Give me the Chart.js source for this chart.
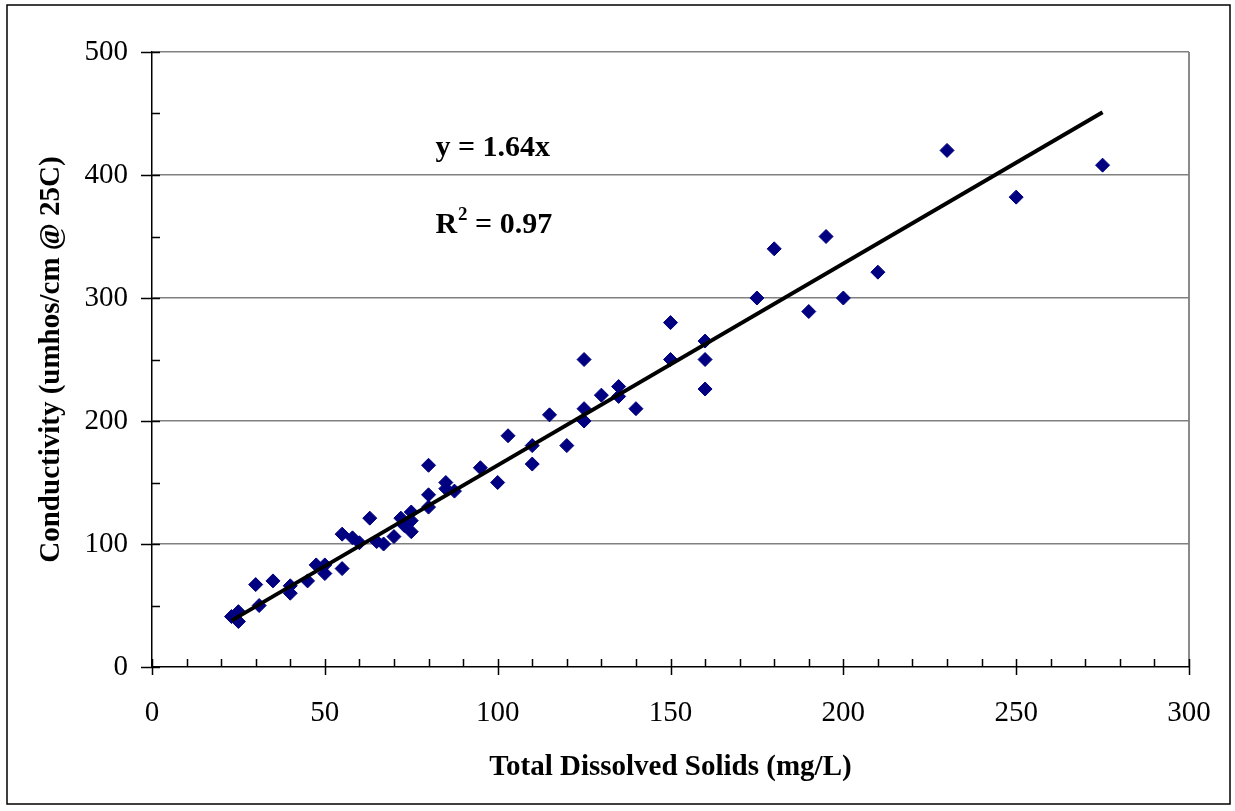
<!DOCTYPE html>
<html>
<head>
<meta charset="utf-8">
<script src="https://cdn.jsdelivr.net/npm/chart.js@4.4.0/dist/chart.umd.min.js"></script>
<style>
  html, body { margin: 0; padding: 0; background: #fff; }
  #wrap { width: 1235px; height: 811px; position: relative; }
</style>
</head>
<body>
<div id="wrap"><canvas id="chart"></canvas></div>
<script>
// TDS (mg/L) vs conductivity readings
const tds = [23, 25, 25, 31, 30, 35, 40, 40, 45, 47.5, 50, 50, 55, 55, 58, 60, 63, 65, 67, 70,
  72, 73, 75, 75, 75, 80, 80, 80, 85, 85, 87.5, 95, 100, 103, 110, 110, 115, 120, 125, 125,
  125, 130, 135, 135, 140, 150, 150, 160, 160, 160, 175, 180, 190, 195, 200, 210, 230, 250, 275];
const conductivity = [41, 45, 37, 50, 67, 70, 66, 60, 70, 83, 83, 76, 80, 108, 105, 101, 121, 102, 100, 106,
  121, 115, 126, 119, 110, 164, 140, 130, 150, 145, 143, 162, 150, 188, 180, 165, 205, 180, 250, 210,
  200, 221, 228, 220, 210, 280, 250, 265, 250, 226, 300, 340, 289, 350, 300, 321, 420, 382, 408];

// fitted line y = 1.64x, drawn over the data range
const slope = 1.64;
const fitRange = [23, 275];

const serif = "'Liberation Serif', 'Times New Roman', serif";

const points = tds.map((v, i) => ({ x: v, y: conductivity[i] }));
const fitLine = fitRange.map(v => ({ x: v, y: slope * v }));

const extras = {
  id: 'extras',
  beforeDraw(chart) {
    const ctx = chart.ctx;
    ctx.save();
    ctx.fillStyle = '#fff';
    ctx.fillRect(0, 0, chart.width, chart.height);
    ctx.strokeStyle = '#000';
    ctx.lineWidth = 1.5;
    ctx.strokeRect(7, 5, 1223, 799);
    ctx.restore();
  },
  afterDraw(chart) {
    const { ctx, scales: { x, y } } = chart;
    ctx.save();
    ctx.strokeStyle = '#000';
    ctx.lineWidth = 1.5;
    ctx.beginPath();
    for (let v = 0; v <= 500; v += 50) {
      const py = Math.round(y.getPixelForValue(v)) + 0.5;
      ctx.moveTo(v % 100 === 0 ? x.left - 11 : x.left, py);
      ctx.lineTo(x.left + 8, py);
    }
    for (let v = 0; v <= 300; v += 10) {
      const px = Math.round(x.getPixelForValue(v)) + 0.5;
      ctx.moveTo(px, y.bottom - 8);
      ctx.lineTo(px, v % 50 === 0 ? y.bottom + 8 : y.bottom);
    }
    ctx.stroke();

    // equation text
    ctx.fillStyle = '#000';
    ctx.textBaseline = 'middle';
    ctx.textAlign = 'left';
    ctx.font = 'bold 30px ' + serif;
    const tx = x.getPixelForValue(82);
    ctx.fillText('y = 1.64x', tx, y.getPixelForValue(422));
    const ry = y.getPixelForValue(359);
    ctx.fillText('R', tx, ry);
    const rw = ctx.measureText('R').width;
    ctx.font = 'bold 19px ' + serif;
    ctx.fillText('2', tx + rw + 1, ry - 10);
    const sw = ctx.measureText('2').width;
    ctx.font = 'bold 30px ' + serif;
    ctx.fillText(' = 0.97', tx + rw + sw + 1, ry);
    ctx.restore();
  }
};

new Chart(document.getElementById('chart'), {
  type: 'scatter',
  data: {
    datasets: [
      {
        label: 'Conductivity',
        data: points,
        pointStyle: 'rectRot',
        pointRadius: 7,
        pointHoverRadius: 7,
        backgroundColor: '#000080',
        borderColor: '#000080',
        borderWidth: 1,
        order: 1
      },
      {
        label: 'Fit',
        data: fitLine,
        showLine: true,
        borderColor: '#000',
        borderWidth: 4,
        pointRadius: 0,
        fill: false,
        order: 0
      }
    ]
  },
  options: {
    responsive: true,
    maintainAspectRatio: false,
    animation: false,
    layout: { padding: { left: 0, right: 46, top: 52, bottom: 0 } },
    plugins: {
      legend: { display: false },
      tooltip: { enabled: false }
    },
    scales: {
      x: {
        type: 'linear',
        min: 0,
        max: 300,
        afterFit(s) { s.height = 144; s.paddingRight = 0; s.paddingLeft = 0; },
        ticks: {
          stepSize: 50,
          padding: 29,
          color: '#000',
          font: { family: serif, size: 29 }
        },
        grid: {
          drawTicks: false,
          color: ctx => ctx.tick && ctx.tick.value === 300 ? '#8a8a8a' : 'rgba(0,0,0,0)',
          lineWidth: 2
        },
        border: { display: true, color: '#000', width: 1.5 },
        title: {
          display: true,
          text: 'Total Dissolved Solids (mg/L)',
          color: '#000',
          font: { family: serif, size: 29, weight: 'bold' },
          padding: { top: 0, bottom: 26 }
        }
      },
      y: {
        type: 'linear',
        min: 0,
        max: 500,
        afterFit(s) { s.width = 152; },
        ticks: {
          stepSize: 100,
          padding: 24,
          color: '#000',
          font: { family: serif, size: 29 }
        },
        grid: {
          drawTicks: false,
          color: ctx => ctx.tick && ctx.tick.value === 0 ? 'rgba(0,0,0,0)' : '#808080',
          lineWidth: 1.5
        },
        border: { display: true, color: '#000', width: 1.5 },
        title: {
          display: true,
          text: 'Conductivity (umhos/cm @ 25C)',
          color: '#000',
          font: { family: serif, size: 29, weight: 'bold' },
          padding: { top: 34, bottom: 0 }
        }
      }
    }
  },
  plugins: [extras]
});
</script>
</body>
</html>
